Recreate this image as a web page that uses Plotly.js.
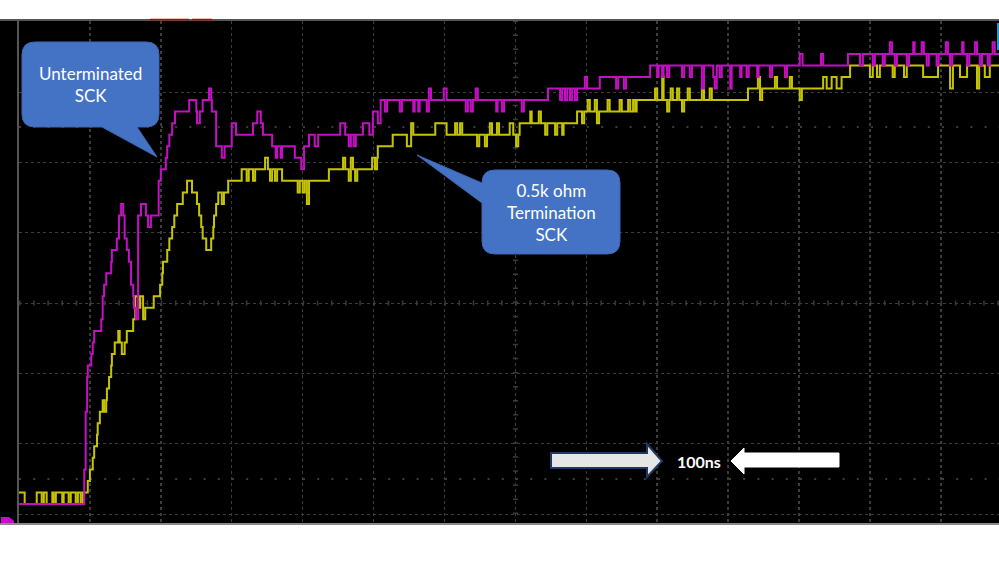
<!DOCTYPE html>
<html>
<head>
<meta charset="utf-8">
<script src="https://cdn.plot.ly/plotly-3.0.1.min.js"></script>
<style>
  html, body { margin: 0; padding: 0; background: #ffffff; }
  #chart { width: 999px; height: 562px; }
</style>
</head>
<body>
<div id="chart"></div>
<script>
// Time in ns (100 ns / div), voltage in V
const unterminatedTime = [0,92,94,96,97,102,104,106,116,118,120,123,130,131,138,141,144,147,149,152,155,158,161,162,165,168,172,179,182,186,197,200,207,209,212,216,220,240,250,251,255,259,268,271,272,278,286,290,300,306,330,336,341,344,357,362,364,369,371,389,398,402,409,417,422,453,460,465,468,472,475,485,494,499,506,510,516,519,537,540,556,558,563,565,575,578,581,599,603,630,633,637,640,644,647,673,675,681,684,709,712,746,763,766,770,773,777,780,784,787,798,801,819,842,845,853,856,890,900,902,907,909,914,917,935,938,946,949,963,966,979,981,984,988,991,1003,1005,1017,1019,1026,1029,1041,1043,1059,1062,1080,1083,1101,1105,1131,1134,1169,1186,1190,1204,1207,1218,1221,1228,1231,1235,1238,1252,1255,1261,1263,1273,1276,1280,1283,1294,1297,1307,1310,1313,1316,1330,1332,1337,1340,1348,1351,1355,1358,1366,1369,1373,1376,1382];
const unterminatedVolt = [0,0.3,0.8,1.1,1.2,1.3,1.4,1.5,1.6,1.8,1.9,2.0,2.1,2.2,2.3,2.5,2.6,2.5,2.3,2.2,2.1,1.9,1.8,1.7,1.6,2.5,2.6,2.5,2.4,2.5,2.8,2.9,3.0,3.1,3.2,3.3,3.4,3.5,3.4,3.3,3.4,3.5,3.6,3.5,3.4,3.1,3.0,3.1,3.3,3.2,3.3,3.4,3.3,3.2,3.1,3.0,3.1,3.0,3.1,3.0,2.9,3.1,3.2,3.1,3.2,3.3,3.2,3.1,3.2,3.1,3.2,3.3,3.2,3.4,3.3,3.5,3.4,3.5,3.4,3.5,3.4,3.5,3.4,3.5,3.4,3.6,3.5,3.6,3.5,3.4,3.5,3.4,3.5,3.6,3.5,3.4,3.5,3.4,3.5,3.4,3.5,3.6,3.5,3.6,3.5,3.6,3.5,3.6,3.5,3.6,3.7,3.6,3.7,3.6,3.7,3.6,3.7,3.8,3.7,3.8,3.7,3.8,3.7,3.8,3.7,3.8,3.7,3.8,3.6,3.8,3.7,3.6,3.8,3.7,3.8,3.6,3.8,3.7,3.8,3.7,3.8,3.7,3.8,3.7,3.8,3.7,3.8,3.9,3.8,3.9,3.8,3.9,3.8,3.9,3.8,3.9,3.8,3.9,4.0,3.9,3.8,3.9,3.8,3.9,4.0,3.9,4.0,3.9,3.8,3.9,3.8,3.9,4.0,3.9,3.8,3.9,4.0,3.9,3.8,3.9,4.0,3.9,3.8,3.9,3.8,3.9,4.0,3.9,3.9];

const terminatedTime = [0,8,25,32,35,39,47,49,52,61,63,70,73,80,83,87,90,97,100,104,106,110,111,114,118,120,123,124,127,130,131,135,140,142,145,149,152,161,164,169,171,175,178,190,199,202,203,209,212,216,219,223,231,237,244,251,254,257,259,264,271,274,275,278,281,286,289,295,314,321,324,330,333,347,351,354,357,361,364,371,393,396,400,403,406,409,437,457,460,465,468,471,474,477,498,502,505,506,527,547,553,556,587,603,615,618,622,625,646,649,657,660,664,667,674,677,692,697,701,704,706,721,723,733,736,742,745,756,759,766,768,787,794,797,802,805,812,815,818,830,833,847,850,859,862,866,869,871,897,900,907,909,914,917,919,922,928,931,935,938,943,946,963,966,974,977,1028,1042,1045,1048,1066,1069,1087,1090,1101,1104,1134,1139,1146,1153,1160,1172,1200,1204,1210,1214,1232,1235,1248,1252,1275,1296,1313,1317,1327,1337,1351,1354,1362,1369,1382];
const terminatedVolt = [0.1,0,0.1,0,0.1,0,0.1,0,0.1,0,0.1,0,0.1,0,0.1,0,0.1,0.2,0.3,0.4,0.5,0.6,0.7,0.8,0.9,0.8,0.9,1.0,1.1,1.2,1.3,1.4,1.5,1.4,1.3,1.4,1.5,1.6,1.8,1.7,1.8,1.6,1.7,1.8,1.9,2.0,2.1,2.2,2.3,2.4,2.5,2.6,2.7,2.8,2.7,2.6,2.5,2.4,2.3,2.2,2.3,2.4,2.5,2.6,2.7,2.6,2.7,2.8,2.9,2.8,2.9,2.8,2.9,3.0,2.9,2.8,2.9,2.8,2.9,2.8,2.7,2.8,2.7,2.8,2.6,2.8,2.9,3.0,2.9,2.8,3.0,2.9,2.8,2.9,3.0,2.9,3.0,3.1,3.2,3.1,3.3,3.2,3.3,3.2,3.3,3.2,3.3,3.2,3.1,3.2,3.1,3.2,3.3,3.2,3.3,3.2,3.3,3.2,3.1,3.2,3.3,3.4,3.3,3.4,3.3,3.2,3.3,3.2,3.3,3.2,3.3,3.4,3.3,3.4,3.5,3.4,3.5,3.3,3.4,3.5,3.4,3.5,3.4,3.5,3.4,3.5,3.4,3.5,3.6,3.5,3.7,3.5,3.4,3.5,3.6,3.5,3.6,3.5,3.4,3.5,3.6,3.5,3.6,3.5,3.6,3.5,3.6,3.7,3.5,3.6,3.7,3.6,3.7,3.6,3.5,3.6,3.7,3.6,3.7,3.6,3.7,3.8,3.7,3.8,3.7,3.8,3.7,3.8,3.7,3.8,3.7,3.8,3.6,3.8,3.7,3.8,3.6,3.8,3.7,3.8,3.8];

const seriesNames = ['0.5k ohm Termination SCK', 'Unterminated SCK'];
const calloutTexts = ['Unterminated<br>SCK', '0.5k ohm<br>Termination<br>SCK'];
const scaleText = '<b>100ns</b>';

// screen-space helpers for decorations (plot area: x 19..999, y 21..523)
const X = px => (px - 19) / 980;
const Y = py => (523 - py) / 502;
function path(pts) {
  return pts.map(s => s[0] + ' ' + X(s[1]).toFixed(5) + ',' + Y(s[2]).toFixed(5) +
    (s.length > 3 ? ' ' + X(s[3]).toFixed(5) + ',' + Y(s[4]).toFixed(5) : '')).join(' ') + ' Z';
}

const callout1 = path([
  ['M',35,42],['L',146,42],['Q',159,42,159,55],['L',159,114],['Q',159,127,146,127],
  ['L',137,127],['L',157,157],['L',102,127],['L',35,127],['Q',22,127,22,114],['L',22,55],['Q',22,42,35,42]
]);
const callout2 = path([
  ['M',495,170],['L',607,170],['Q',620,170,620,183],['L',620,241],['Q',620,254,607,254],
  ['L',495,254],['Q',482,254,482,241],['L',482,203],['L',417,155],['L',482,183],['Q',482,170,495,170]
]);
const arrowRight = path([
  ['M',551,453],['L',647,453],['L',647,444],['L',662,461],['L',647,477],['L',647,468],['L',551,468]
]);
const arrowLeft = path([
  ['M',839,453],['L',744,453],['L',744,448],['L',731,461],['L',744,474],['L',744,467],['L',839,467]
]);
const groundMark = path([['M',1,517],['L',9,517],['L',14,521],['L',14,523],['L',1,523]]);

const traces = [
  { x: terminatedTime, y: terminatedVolt, name: seriesNames[0], type: 'scatter', mode: 'lines',
    line: { shape: 'hv', color: '#c6c400', width: 2 }, hoverinfo: 'skip' },
  { x: unterminatedTime, y: unterminatedVolt, name: seriesNames[1], type: 'scatter', mode: 'lines',
    line: { shape: 'hv', color: '#c40fc4', width: 2 }, hoverinfo: 'skip' }
];

const shapes = [
  // left black strip
  { type: 'rect', xref: 'paper', yref: 'paper', x0: X(0), x1: 0, y0: Y(524), y1: Y(20),
    fillcolor: '#000000', line: { width: 0 }, layer: 'below' },
  // top / bottom frame lines
  { type: 'line', xref: 'paper', yref: 'paper', x0: X(0), x1: X(999), y0: Y(20), y1: Y(20),
    line: { color: '#555555', width: 2 }, layer: 'above' },
  { type: 'line', xref: 'paper', yref: 'paper', x0: X(0), x1: X(999), y0: Y(524), y1: Y(524),
    line: { color: '#8a8a8a', width: 2 }, layer: 'above' },
  // red marks on the top frame
  { type: 'line', xref: 'paper', yref: 'paper', x0: X(150), x1: X(189), y0: Y(19.5), y1: Y(19.5),
    line: { color: '#c00000', width: 1.5 }, layer: 'above' },
  { type: 'line', xref: 'paper', yref: 'paper', x0: X(192), x1: X(212), y0: Y(19.5), y1: Y(19.5),
    line: { color: '#c00000', width: 1.5 }, layer: 'above' },
  // cyan marker at right edge
  { type: 'line', xref: 'paper', yref: 'paper', x0: X(998), x1: X(998), y0: Y(50), y1: Y(23),
    line: { color: '#1a9ad6', width: 2 }, layer: 'above' },
  // sparse reference dot rows
  { type: 'line', xref: 'paper', yref: 'paper', x0: 0, x1: 1, y0: Y(127), y1: Y(127),
    line: { color: '#3c3c3c', width: 2, dash: '2px,12.2px' }, layer: 'below' },
  { type: 'line', xref: 'paper', yref: 'paper', x0: 0, x1: 1, y0: Y(479), y1: Y(479),
    line: { color: '#3c3c3c', width: 2, dash: '2px,12.2px' }, layer: 'below' },
  // centre tick rows
  { type: 'line', xref: 'paper', yref: 'paper', x0: 0, x1: 1, y0: Y(303), y1: Y(303),
    line: { color: '#3a3a3a', width: 5, dash: '1.5px,12.68px' }, layer: 'below' },
  { type: 'line', xref: 'paper', yref: 'paper', x0: X(515.5), x1: X(515.5), y0: Y(514), y1: Y(21),
    line: { color: '#3a3a3a', width: 5, dash: '1.5px,12.56px' }, layer: 'below' },
  // ground marker
  { type: 'path', xref: 'paper', yref: 'paper', path: groundMark, fillcolor: '#c40fc4',
    line: { width: 0 }, layer: 'above' },
  // callouts
  { type: 'path', xref: 'paper', yref: 'paper', path: callout1, fillcolor: '#4472c4',
    line: { color: '#3d67b3', width: 1 }, layer: 'above' },
  { type: 'path', xref: 'paper', yref: 'paper', path: callout2, fillcolor: '#4472c4',
    line: { color: '#3d67b3', width: 1 }, layer: 'above' },
  // 100ns arrows
  { type: 'path', xref: 'paper', yref: 'paper', path: arrowRight, fillcolor: '#e7e6e6',
    line: { color: '#203864', width: 2 }, layer: 'above' },
  { type: 'path', xref: 'paper', yref: 'paper', path: arrowLeft, fillcolor: '#ffffff',
    line: { color: '#ffffff', width: 1 }, layer: 'above' }
];

const annFont = { family: 'Lato, "Open Sans", sans-serif', size: 17, color: '#ffffff' };
const annotations = [
  { xref: 'paper', yref: 'paper', x: X(90), y: Y(84.5), text: calloutTexts[0], showarrow: false,
    xanchor: 'center', yanchor: 'middle', align: 'center', font: annFont },
  { xref: 'paper', yref: 'paper', x: X(551), y: Y(212.5), text: calloutTexts[1], showarrow: false,
    xanchor: 'center', yanchor: 'middle', align: 'center', font: annFont },
  { xref: 'paper', yref: 'paper', x: X(699), y: Y(461), text: scaleText, showarrow: false,
    xanchor: 'center', yanchor: 'middle', font: { family: 'Lato, "Open Sans", sans-serif', size: 16, color: '#ffffff' } }
];

const layout = {
  width: 999, height: 562,
  margin: { l: 19, r: 0, t: 21, b: 39, pad: 0 },
  paper_bgcolor: '#ffffff',
  plot_bgcolor: '#000000',
  showlegend: false,
  hovermode: false,
  xaxis: {
    range: [0, 1382], tick0: 0, dtick: 100,
    showgrid: true, gridcolor: '#3c3c3c', gridwidth: 1.5, griddash: 'dot',
    zeroline: false, showline: false, showticklabels: false, ticks: '', fixedrange: true
  },
  yaxis: {
    range: [-0.1646, 4.185], tick0: -0.0867, dtick: 0.6092,
    showgrid: true, gridcolor: '#3c3c3c', gridwidth: 1, griddash: 'dot',
    zeroline: false, showline: true, linecolor: '#555555', linewidth: 2,
    showticklabels: false, ticks: '', fixedrange: true
  },
  shapes: shapes,
  annotations: annotations
};

Plotly.newPlot('chart', traces, layout, { staticPlot: true, displayModeBar: false });
</script>
</body>
</html>
